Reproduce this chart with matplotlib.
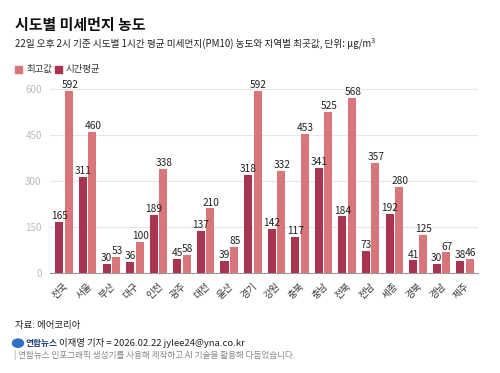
import numpy as np
import matplotlib.pyplot as plt
from matplotlib.patches import Rectangle, Circle

plt.rcParams['font.family'] = ['Noto Sans CJK KR', 'DejaVu Sans']

regions = ["전국", "서울", "부산", "대구", "인천", "광주", "대전", "울산", "경기",
           "강원", "충북", "충남", "전북", "전남", "세종", "경북", "경남", "제주"]
hourly_avg = [165, 311, 30, 36, 189, 45, 137, 39, 318, 142, 117, 341, 184, 73, 192, 41, 30, 38]
max_val = [592, 460, 53, 100, 338, 58, 210, 85, 592, 332, 453, 525, 568, 357, 280, 125, 67, 46]
yticks = [0, 150, 300, 450, 600]

DARK = "#A9344F"
LIGHT = "#D8767B"

fig = plt.figure(figsize=(5, 3.73), dpi=100)
ax = fig.add_axes([0.10, 0.268, 0.856, 0.507])

x = np.arange(len(regions))
w = 0.34
gap = 0.06
ax.bar(x - (w + gap) / 2, hourly_avg, width=w, color=DARK, zorder=3)
ax.bar(x + (w + gap) / 2, max_val, width=w, color=LIGHT, zorder=3)

# value labels
for i in range(len(regions)):
    ax.text(x[i] - (w + gap) / 2, hourly_avg[i] + 3, str(hourly_avg[i]), ha="center", va="bottom",
            fontsize=7.3, fontweight="medium", color="#222222", zorder=4)
    ax.text(x[i] + (w + gap) / 2 + 0.04, max_val[i] + 3, str(max_val[i]), ha="center", va="bottom",
            fontsize=7.3, fontweight="medium", color="#222222", zorder=4)

ax.set_ylim(0, 615)
ax.set_xlim(-0.6, len(regions) - 0.45)
ax.set_yticks(yticks)
ax.set_yticklabels([str(t) for t in yticks], fontsize=7, color="#BBBBBB")
ax.set_xticks(x + 0.1)
ax.set_xticklabels(regions, fontsize=7, color="#333333")
ax.tick_params(axis="both", length=0)
ax.tick_params(axis="y", pad=6)
ax.tick_params(axis="x", pad=8)
for lbl in ax.get_xticklabels():
    lbl.set_rotation(45)
    lbl.set_rotation_mode("anchor")
    lbl.set_ha("right")
    lbl.set_va("center")

ax.grid(axis="y", color="#E6E6E6", linewidth=0.8, zorder=0)
for s in ["top", "right", "left"]:
    ax.spines[s].set_visible(False)
ax.spines["bottom"].set_color("#999999")
ax.spines["bottom"].set_linewidth(0.8)

# title
fig.text(0.03, 0.932, "시도별 미세먼지 농도", fontsize=10.8, fontweight="bold", color="#111111", va="center")
fig.text(0.03, 0.885, "22일 오후 2시 기준 시도별 1시간 평균 미세먼지(PM10) 농도와 지역별 최곳값, 단위: μg/m³",
         fontsize=6.95, color="#222222", va="center")

# legend
fig.patches.append(Rectangle((0.03, 0.803), 0.014, 0.020, color=LIGHT, transform=fig.transFigure, figure=fig))
fig.text(0.052, 0.814, "최고값", fontsize=6.8, color="#333333", va="center")
fig.patches.append(Rectangle((0.11, 0.803), 0.014, 0.020, color=DARK, transform=fig.transFigure, figure=fig))
fig.text(0.132, 0.814, "시간평균", fontsize=6.8, color="#333333", va="center")

# footer
fig.text(0.03, 0.128, "자료: 에어코리아", fontsize=6.8, fontweight="medium", color="#222222", va="center")
fig.patches.append(Circle((0.036, 0.080), 0.011, color="#2E6FC7", transform=fig.transFigure, figure=fig))
fig.text(0.05, 0.080, "연합뉴스", fontsize=6.3, fontweight="bold", color="#1F3F7A", va="center")
fig.text(0.118, 0.080, "이재영 기자 = 2026.02.22 jylee24@yna.co.kr", fontsize=6.8, color="#222222", va="center")
fig.text(0.028, 0.048, "| 연합뉴스 인포그래픽 생성기를 사용해 제작하고 AI 기술을 활용해 다듬었습니다.",
         fontsize=6.2, color="#888888", va="center")

fig.savefig("out.png", dpi=100, facecolor="white")
